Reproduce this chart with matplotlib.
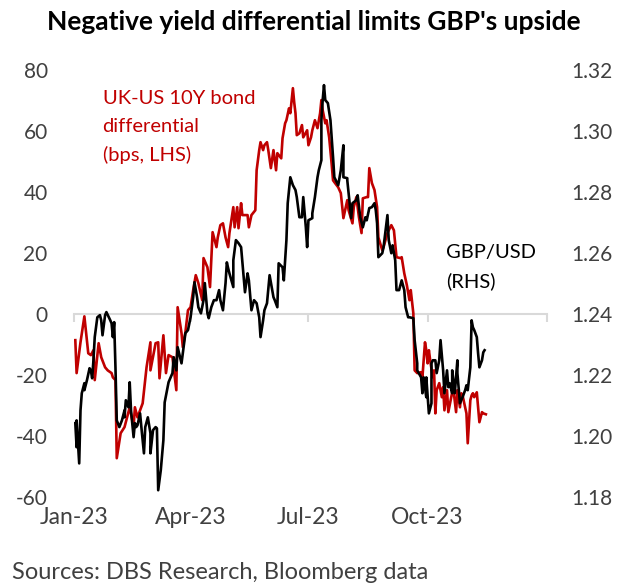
import pandas as pd
import matplotlib.pyplot as plt

plt.rcParams['font.family'] = ['Lato', 'DejaVu Sans']

START = pd.Timestamp("2023-01-01")

# UK-US 10Y yield spread, bps (day offset from 1 Jan 2023)
spread_days = [1, 2, 5, 8, 11, 13, 15, 16, 19, 21, 24, 26, 29, 30, 32, 33, 36, 39, 43, 46,
               47, 49, 53, 56, 59, 59, 63, 65, 66, 69, 71, 73, 76, 79, 80, 83, 84, 86, 88, 90,
               92, 94, 96, 99, 100, 103, 105, 107, 110, 111, 113, 115, 117, 119, 120, 123, 124, 126, 127, 129,
               130, 134, 135, 137, 140, 141, 143, 144, 146, 147, 149, 150, 152, 154, 156, 157, 160, 161, 163, 164,
               166, 167, 169, 170, 171, 172, 174, 176, 177, 180, 181, 183, 184, 186, 188, 190, 191, 192, 194, 195,
               197, 199, 200, 201, 204, 206, 208, 211, 212, 215, 216, 218, 220, 222, 223, 226, 227, 228, 230, 232,
               234, 235, 238, 239, 242, 243, 245, 247, 249, 252, 253, 255, 257, 259, 260, 262, 263, 265, 268, 269,
               271, 272, 273, 274, 275, 277, 278, 279, 280, 282, 284, 285, 286, 288, 289, 292, 293, 295, 296, 298,
               299, 300, 302, 303, 304, 306, 307, 308, 309, 311, 312, 313, 315, 316, 318]
spread_bps = [-8.5, -19.3, -9.2, -0.7, -12.8, -13.4, -11.8, -21.6, -9.5, -14.1, -17.4, -18.4, -19.3, -20.7, -21.6, -47.2, -39.0, -37.0, -30.5, -37.0,
              -30.5, -33.8, -29.2, -17.4, -9.2, -18.4, -9.5, -9.2, -21.0, -6.9, -19.3, -13.4, -14.1, -24.9, 2.3, -6.2, -10.8, -5.9, 1.3, 2.3,
              7.9, 12.8, 10.2, 4.6, 18.4, 15.4, 8.9, 26.9, 22.0, 25.2, 29.2, 29.8, 25.2, 22.0, 26.6, 35.1, 28.5, 35.1, 28.2, 36.4,
              32.5, 32.5, 28.5, 32.5, 34.1, 47.2, 53.8, 56.4, 53.8, 55.4, 56.4, 53.8, 47.9, 53.8, 47.2, 52.8, 51.1, 57.7, 62.6, 63.6,
              67.5, 65.9, 74.1, 69.5, 65.9, 58.7, 59.3, 62.0, 58.0, 60.3, 55.4, 58.0, 60.3, 63.6, 61.0, 65.9, 70.2, 66.9, 62.6, 63.6,
              58.0, 48.9, 43.9, 43.3, 41.6, 39.7, 31.5, 37.4, 34.1, 29.8, 35.1, 38.4, 31.8, 26.6, 38.0, 38.4, 38.4, 47.9, 43.0, 40.7,
              35.1, 25.2, 21.0, 22.0, 26.6, 27.5, 29.2, 27.5, 18.7, 18.4, 18.7, 13.4, 9.5, 4.6, 7.9, 0.3, -18.4, -19.3, -19.0, -20.7,
              -9.2, -11.8, -16.1, -11.8, -15.1, -20.7, -18.4, -32.5, -24.9, -22.6, -27.2, -23.9, -31.5, -24.9, -32.1, -25.6, -24.9, -32.1, -24.9, -30.5,
              -25.9, -26.6, -30.5, -32.5, -42.3, -28.2, -26.6, -25.9, -27.2, -25.6, -30.5, -35.4, -32.1, -32.5, -32.8]

# GBP/USD spot (day offset from 1 Jan 2023)
fx_days = [1, 2, 2, 4, 5, 6, 8, 8, 10, 12, 13, 14, 15, 16, 18, 20, 21, 22, 24, 25,
           28, 29, 30, 31, 32, 33, 35, 37, 39, 39, 40, 42, 43, 44, 46, 47, 48, 49, 51, 52,
           54, 55, 57, 59, 59, 61, 63, 64, 65, 67, 69, 70, 73, 76, 77, 79, 80, 83, 84, 86,
           88, 90, 92, 93, 95, 96, 98, 100, 101, 103, 104, 106, 108, 110, 112, 113, 115, 117, 118, 119,
           120, 123, 123, 125, 127, 129, 130, 132, 134, 135, 137, 139, 141, 143, 144, 146, 147, 149, 151, 154,
           155, 157, 158, 161, 162, 164, 165, 167, 169, 171, 172, 174, 176, 177, 179, 180, 181, 184, 184, 186,
           188, 189, 191, 191, 192, 193, 194, 196, 198, 200, 201, 204, 206, 208, 208, 211, 211, 214, 215, 218,
           219, 221, 223, 225, 226, 228, 230, 232, 233, 234, 235, 238, 239, 242, 243, 245, 246, 248, 249, 251,
           253, 255, 256, 258, 259, 262, 263, 265, 265, 268, 269, 270, 272, 272, 274, 276, 276, 277, 279, 280,
           282, 283, 285, 286, 288, 289, 290, 292, 292, 294, 296, 296, 298, 299, 300, 302, 303, 304, 306, 307,
           308, 309, 311, 312, 313, 315, 316, 317]
gbpusd = [1.2043, 1.1964, 1.2052, 1.1911, 1.2085, 1.2141, 1.2174, 1.2151, 1.2184, 1.2223, 1.2216, 1.2190, 1.2249, 1.2325, 1.2390, 1.2397, 1.2380, 1.2331, 1.2397, 1.2407,
          1.2380, 1.2370, 1.2325, 1.2374, 1.2226, 1.2052, 1.2030, 1.2052, 1.2085, 1.2062, 1.2118, 1.2095, 1.2177, 1.2085, 1.1997, 1.2043, 1.2030, 1.2036, 1.2075, 1.2030,
          1.1944, 1.2030, 1.2062, 1.2010, 1.1944, 1.2020, 1.2030, 1.2026, 1.1823, 1.1889, 1.1987, 1.2111, 1.2177, 1.2207, 1.2259, 1.2216, 1.2292, 1.2239, 1.2272, 1.2338,
          1.2348, 1.2390, 1.2456, 1.2505, 1.2456, 1.2423, 1.2403, 1.2446, 1.2502, 1.2403, 1.2387, 1.2423, 1.2446, 1.2446, 1.2479, 1.2446, 1.2413, 1.2502, 1.2570, 1.2551,
          1.2534, 1.2489, 1.2577, 1.2643, 1.2633, 1.2620, 1.2570, 1.2472, 1.2534, 1.2511, 1.2413, 1.2446, 1.2436, 1.2390, 1.2325, 1.2380, 1.2413, 1.2436, 1.2528, 1.2456,
          1.2446, 1.2423, 1.2567, 1.2554, 1.2511, 1.2643, 1.2764, 1.2849, 1.2823, 1.2807, 1.2784, 1.2718, 1.2718, 1.2784, 1.2685, 1.2620, 1.2708, 1.2715, 1.2731, 1.2784,
          1.2849, 1.2872, 1.2905, 1.3036, 1.3102, 1.3151, 1.3102, 1.3092, 1.3036, 1.2915, 1.2849, 1.2823, 1.2872, 1.2954, 1.2849, 1.2846, 1.2839, 1.2715, 1.2764, 1.2774,
          1.2790, 1.2718, 1.2685, 1.2718, 1.2708, 1.2748, 1.2751, 1.2764, 1.2741, 1.2698, 1.2587, 1.2600, 1.2620, 1.2725, 1.2643, 1.2600, 1.2626, 1.2577, 1.2479, 1.2479,
          1.2511, 1.2479, 1.2423, 1.2390, 1.2390, 1.2387, 1.2315, 1.2239, 1.2216, 1.2193, 1.2141, 1.2193, 1.2128, 1.2193, 1.2075, 1.2108, 1.2239, 1.2249, 1.2249, 1.2207,
          1.2249, 1.2315, 1.2216, 1.2141, 1.2216, 1.2161, 1.2174, 1.2141, 1.2216, 1.2141, 1.2249, 1.2207, 1.2108, 1.2118, 1.2128, 1.2151, 1.2167, 1.2151, 1.2226, 1.2380,
          1.2357, 1.2348, 1.2325, 1.2272, 1.2226, 1.2249, 1.2275, 1.2282]

left_ticks = [-60, -40, -20, 0, 20, 40, 60, 80]
right_ticks = [1.18, 1.20, 1.22, 1.24, 1.26, 1.28, 1.30, 1.32]
quarter_starts = ["2023-01-01", "2023-04-01", "2023-07-01", "2023-10-01", "2024-01-01"]
quarter_labels = ["Jan-23", "Apr-23", "Jul-23", "Oct-23", ""]

RED = "#C00000"
GREY = "#D9D9D9"
TXT = "#404040"

spread_dates = START + pd.to_timedelta(spread_days, unit="D")
fx_dates = START + pd.to_timedelta(fx_days, unit="D")
q_dates = pd.to_datetime(quarter_starts)

fig = plt.figure(figsize=(6.22, 5.85), dpi=100)
ax = fig.add_axes([0.119, 0.150, 0.760, 0.730])
ax2 = ax.twinx()

ax.plot(spread_dates, spread_bps, color=RED, lw=1.9, zorder=3)
ax2.plot(fx_dates, gbpusd, color="black", lw=1.9, zorder=3)

ax.set_xlim(q_dates[0], q_dates[-1])
ax.set_ylim(-60, 80)
ax2.set_ylim(1.18, 1.32)
ax.set_yticks(left_ticks)
ax2.set_yticks(right_ticks)
ax.set_yticklabels([str(t) for t in left_ticks])
ax2.set_yticklabels([f"{t:.2f}" for t in right_ticks])

# category axis sits on the zero line, labels stay at the bottom
for a in (ax, ax2):
    for side in ("top", "left", "right"):
        a.spines[side].set_visible(False)
ax2.spines["bottom"].set_visible(False)
ax.spines["bottom"].set_position(("data", 0))
ax.spines["bottom"].set_color(GREY)
ax.spines["bottom"].set_linewidth(1.5)
ax.set_xticks(q_dates)
ax.tick_params(axis="x", direction="out", length=6, width=1.5, color=GREY, labelbottom=False)
for d, lab in zip(q_dates, quarter_labels):
    ax.text(d, -0.048, lab, transform=ax.get_xaxis_transform(), ha="center", va="center",
            fontsize=16.5, color=TXT)

ax.tick_params(axis="y", length=0, pad=19, labelsize=15, labelcolor=TXT)
ax2.tick_params(axis="y", length=0, pad=18, labelsize=15, labelcolor=TXT)

ax.text(START + pd.Timedelta(days=22), 61.3, "UK-US 10Y bond\ndifferential\n(bps, LHS)",
        color=RED, fontsize=14.5, va="center", ha="left", linespacing=1.75)
ax.text(START + pd.Timedelta(days=287), 15.4, "GBP/USD\n(RHS)",
        color="black", fontsize=14.5, va="center", ha="left", linespacing=1.75)

fig.text(0.505, 0.962, "Negative yield differential limits GBP's upside",
         ha="center", va="center", fontsize=19, fontweight="bold", color="black")
fig.text(0.019, 0.022, "Sources: DBS Research, Bloomberg data",
         ha="left", va="center", fontsize=17, color=TXT)

fig.savefig("out.png", dpi=100)
